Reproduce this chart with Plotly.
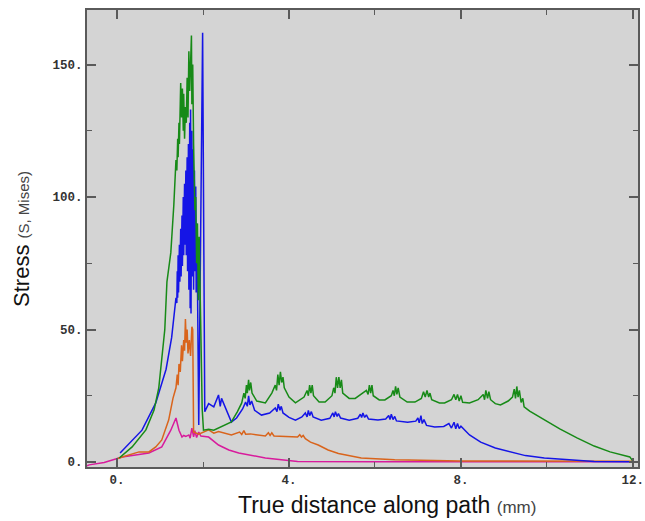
import plotly.graph_objects as go

# ---- data ----
green_x = [0.05, 0.35, 0.67, 0.86, 0.97, 1.04, 1.11, 1.16, 1.25, 1.32, 1.37,
           1.39, 1.41, 1.42, 1.44, 1.45, 1.47, 1.48, 1.50, 1.52, 1.54, 1.55, 1.57, 1.59, 1.61,
           1.63, 1.65, 1.67, 1.69, 1.71, 1.73, 1.74, 1.76, 1.78, 1.80, 1.81, 1.83, 1.85, 1.87,
           1.89, 1.91, 1.93, 1.95, 1.98, 2.01,
           2.13, 2.25, 2.36, 2.55, 2.66, 2.80, 2.90,
           2.95, 2.98, 3.01, 3.03, 3.06, 3.08, 3.11, 3.14,
           3.25, 3.45, 3.60,
           3.68, 3.71, 3.74, 3.77, 3.80, 3.83, 3.86, 3.89,
           4.00, 4.15, 4.35,
           4.42, 4.45, 4.48, 4.51, 4.54, 4.57,
           4.70, 4.84, 5.00,
           5.04, 5.07, 5.10, 5.13, 5.16, 5.19, 5.22, 5.25,
           5.40, 5.54, 5.72,
           5.80, 5.84, 5.87, 5.90, 5.93, 5.96,
           6.10, 6.23, 6.38,
           6.42, 6.45, 6.48, 6.51, 6.54, 6.58,
           6.75, 6.93, 7.08,
           7.13, 7.17, 7.21, 7.25, 7.28, 7.32,
           7.50, 7.62, 7.78,
           7.84, 7.88, 7.92, 7.96, 8.00, 8.04,
           8.20, 8.40,
           8.52, 8.55, 8.58, 8.62, 8.65, 8.69,
           8.80, 8.92, 9.10, 9.20,
           9.24, 9.27, 9.30, 9.33, 9.36, 9.40, 9.44, 9.47,
           9.60, 9.94, 10.30, 10.70, 11.10, 11.47, 11.93, 12.00]
green_y = [1.5, 5.7, 12.1, 19.6, 28.0, 38.5, 50, 68, 79, 97, 114,
           110, 122, 115, 128, 120, 138, 143, 130, 141, 125, 139, 122, 134, 128,
           145, 130, 155, 140, 158, 161, 135, 150, 120, 108, 95, 100, 75, 90,
           61, 85, 65, 40, 20, 12,
           12.3, 12, 12.8, 14, 15.1, 19, 22.3,
           26, 24, 29, 26, 31, 27, 30, 26,
           23, 22.3, 26,
           29, 27, 33, 29, 34, 30, 32, 28,
           24.5, 22.3, 24.5,
           27, 25, 29, 26, 29, 25,
           22.6, 22.6, 25,
           28, 26, 32, 28, 32, 28, 31, 26,
           24, 24, 26,
           27, 25.5, 29, 26, 29, 25,
           23.4, 23.4, 25,
           27, 25, 28.5, 25.5, 28, 24.5,
           22.6, 22.6, 24,
           26.5, 24.5, 27, 24.5, 26, 23.5,
           22.3, 22.3, 23.5,
           25.5, 23.5, 25.5, 23, 25, 22.5,
           22.3, 23.5,
           25.5, 23.5, 27, 24, 26.5, 23.5,
           22, 21.5, 23, 24.5,
           27.5, 24, 28.5, 24.5, 27, 22.5, 24, 20.8,
           19.2, 15.8, 12.5, 9.1, 6.0, 3.8, 1.9, 0.3]

blue_x = [0.07, 0.58, 0.90, 1.14, 1.27, 1.32, 1.37,
          1.39, 1.40, 1.41, 1.42, 1.43, 1.45, 1.46, 1.48, 1.49, 1.51, 1.52, 1.54, 1.55, 1.57,
          1.58, 1.60, 1.61, 1.63, 1.64, 1.66, 1.67, 1.69, 1.70, 1.71, 1.72, 1.74, 1.75, 1.77,
          1.78, 1.80, 1.81, 1.83, 1.84, 1.86, 1.87, 1.90, 1.99, 2.04,
          2.13, 2.25, 2.36, 2.40, 2.43, 2.55, 2.66, 2.78, 2.92, 2.99, 3.03, 3.06, 3.09, 3.13,
          3.20, 3.36, 3.55,
          3.68, 3.72, 3.75, 3.79, 3.82, 3.86,
          4.00, 4.15, 4.30,
          4.38, 4.42, 4.45, 4.48, 4.52, 4.56,
          4.75, 4.95,
          5.02, 5.05, 5.08, 5.12, 5.15, 5.20,
          5.40, 5.60,
          5.66, 5.69, 5.72, 5.76, 5.80, 5.85,
          6.07, 6.25,
          6.32, 6.35, 6.38, 6.42, 6.46, 6.50,
          6.76, 6.95,
          7.00, 7.03, 7.07, 7.10, 7.14, 7.20,
          7.39, 7.60,
          7.72, 7.78, 7.84, 7.88, 7.92, 7.96, 8.00,
          8.20, 8.46, 8.80, 9.15, 9.50, 9.94, 10.50, 11.10, 12.00]
blue_y = [3.4, 12, 22.3, 35, 47, 55, 62,
          60, 72, 62, 78, 64, 82, 68, 88, 70, 93, 74, 100, 78, 105,
          82, 110, 78, 115, 72, 120, 65, 128, 58, 133, 56, 125, 70, 118,
          65, 110, 72, 104, 64, 90, 68, 14, 162, 19,
          22, 20.8, 25.3, 21, 24, 19.6, 15.1, 16.6, 20, 22.6, 21, 25, 21.5, 23,
          19.5, 17.7, 18.5,
          20.4, 19, 21.8, 19.5, 21, 18.5,
          16.8, 15.8, 17,
          18.5, 17, 19.5, 17.5, 19, 17,
          15.8, 16.5,
          18.5, 17, 19, 17.2, 18.3, 16.6,
          15.8, 16.5,
          18, 16.8, 18.5, 16.8, 17.8, 16.2,
          15.8, 16.2,
          17.5, 16, 18, 16, 17.2, 15.5,
          15, 15.4,
          16.6, 14.8, 17.5, 14.5, 16, 13.8,
          13.2, 13.4,
          14.5, 12.8, 15, 12.5, 14.5, 12.6, 13.5,
          10.2, 7.5, 5.3, 3.8, 2.4, 1.5, 0.8, 0.2, 0.1]

orange_x = [0.00, 0.12, 0.51, 0.74, 0.90, 1.04, 1.20, 1.30, 1.37, 1.40, 1.42, 1.44, 1.47,
            1.50, 1.52, 1.55, 1.57, 1.59, 1.61, 1.63, 1.65, 1.68, 1.71, 1.74, 1.76, 1.78,
            1.90, 2.02, 2.13, 2.25, 2.36, 2.66, 2.85, 2.90, 2.95, 2.99, 3.10, 3.45, 3.52,
            3.56, 3.60, 3.65, 4.00, 4.20, 4.25, 4.29, 4.33, 4.38, 4.50, 4.68, 4.91, 5.15,
            5.68, 6.46, 7.99, 12.00]
orange_y = [1.2, 1.9, 3.8, 3.8, 5.7, 8.3, 15.8, 24, 28, 33, 29, 37, 34,
            44, 38, 46, 42, 54, 45, 50, 41, 46, 40, 51, 50, 11.3,
            10.5, 11.3, 12.1, 10.9, 11.5, 10.2, 11.3, 10.4, 11.8, 10.5, 10.6, 9.8, 11,
            10, 11, 9.8, 9.6, 9.4, 10.3, 9.4, 10, 8.8, 7.5, 6.4, 4.5, 3.2,
            1.5, 0.8, 0.4, 0.3]

magenta_x = [-0.70, -0.65, -0.30, 0.12, 0.74, 1.04, 1.25, 1.37, 1.44, 1.51, 1.55, 1.60,
             1.67, 1.70, 1.74, 1.78, 1.81, 1.85, 1.90, 1.95, 2.13, 2.36, 2.60, 2.83,
             3.45, 4.20, 6.00, 12.00]
magenta_y = [-1.5, -1.1, -0.2, 1.9, 3.4, 5.7, 12, 16.6, 12, 9.4, 10, 9.6,
             10.2, 9, 12.8, 9.5, 11.8, 9.2, 11.3, 9.8, 9.4, 6.4, 4.5, 3.4,
             1.5, 0.2, 0.1, 0.1]

x_tick_vals = [0, 4, 8, 12]
x_tick_text = ["0.", "4.", "8.", "12."]
y_tick_vals = [0, 50, 100, 150]
y_tick_text = ["0.", "50.", "100.", "150."]

# ---- figure ----
fig = go.Figure()
series = [
    (magenta_x, magenta_y, "#d81b9c"),
    (orange_x, orange_y, "#d9641c"),
    (blue_x, blue_y, "#1515e6"),
    (green_x, green_y, "#178a17"),
]
for xs, ys, col in series:
    fig.add_trace(go.Scatter(x=xs, y=ys, mode="lines",
                             line=dict(color=col, width=1.5), showlegend=False,
                             hoverinfo="skip"))

tick_font = dict(family="Liberation Mono", size=12.5, color="#333333", weight="bold")
axis_common = dict(showline=True, linecolor="#5a5a5a", linewidth=2, mirror="ticks",
                   ticks="inside", ticklen=9, tickwidth=1.5, tickcolor="#5a5a5a",
                   showgrid=False, zeroline=False, tickfont=tick_font,
                   ticklabeloverflow="allow", automargin=False)

fig.update_xaxes(range=[-0.70, 12.12], tickvals=x_tick_vals, ticktext=x_tick_text,
                 minor=dict(dtick=2, tick0=0, ticklen=5, ticks="inside",
                            tickcolor="#5a5a5a", tickwidth=1.2, showgrid=False),
                 **axis_common)
fig.update_yaxes(range=[-1.9, 170.6], tickvals=y_tick_vals, ticktext=y_tick_text,
                 minor=dict(dtick=25, tick0=0, ticklen=5, ticks="inside",
                            tickcolor="#5a5a5a", tickwidth=1.2, showgrid=False),
                 **axis_common)

fig.add_annotation(xref="paper", yref="paper", x=-0.119, y=0.5,
                   text="Stress <span style='font-size:15px;color:#444'>(S, Mises)</span>",
                   textangle=-90, showarrow=False, xanchor="center", yanchor="middle",
                   font=dict(family="Liberation Sans", size=22, color="#111"))
fig.add_annotation(xref="paper", yref="paper", x=0.545, y=-0.083,
                   text="True distance along path <span style='font-size:17px;color:#444'>(mm)</span>",
                   showarrow=False, xanchor="center", yanchor="middle",
                   font=dict(family="Liberation Sans", size=23, color="#111"))

fig.update_layout(width=645, height=521,
                  margin=dict(l=87, r=7, t=10, b=54, autoexpand=False),
                  plot_bgcolor="#d4d4d4", paper_bgcolor="white")

fig.write_html("out.html")
